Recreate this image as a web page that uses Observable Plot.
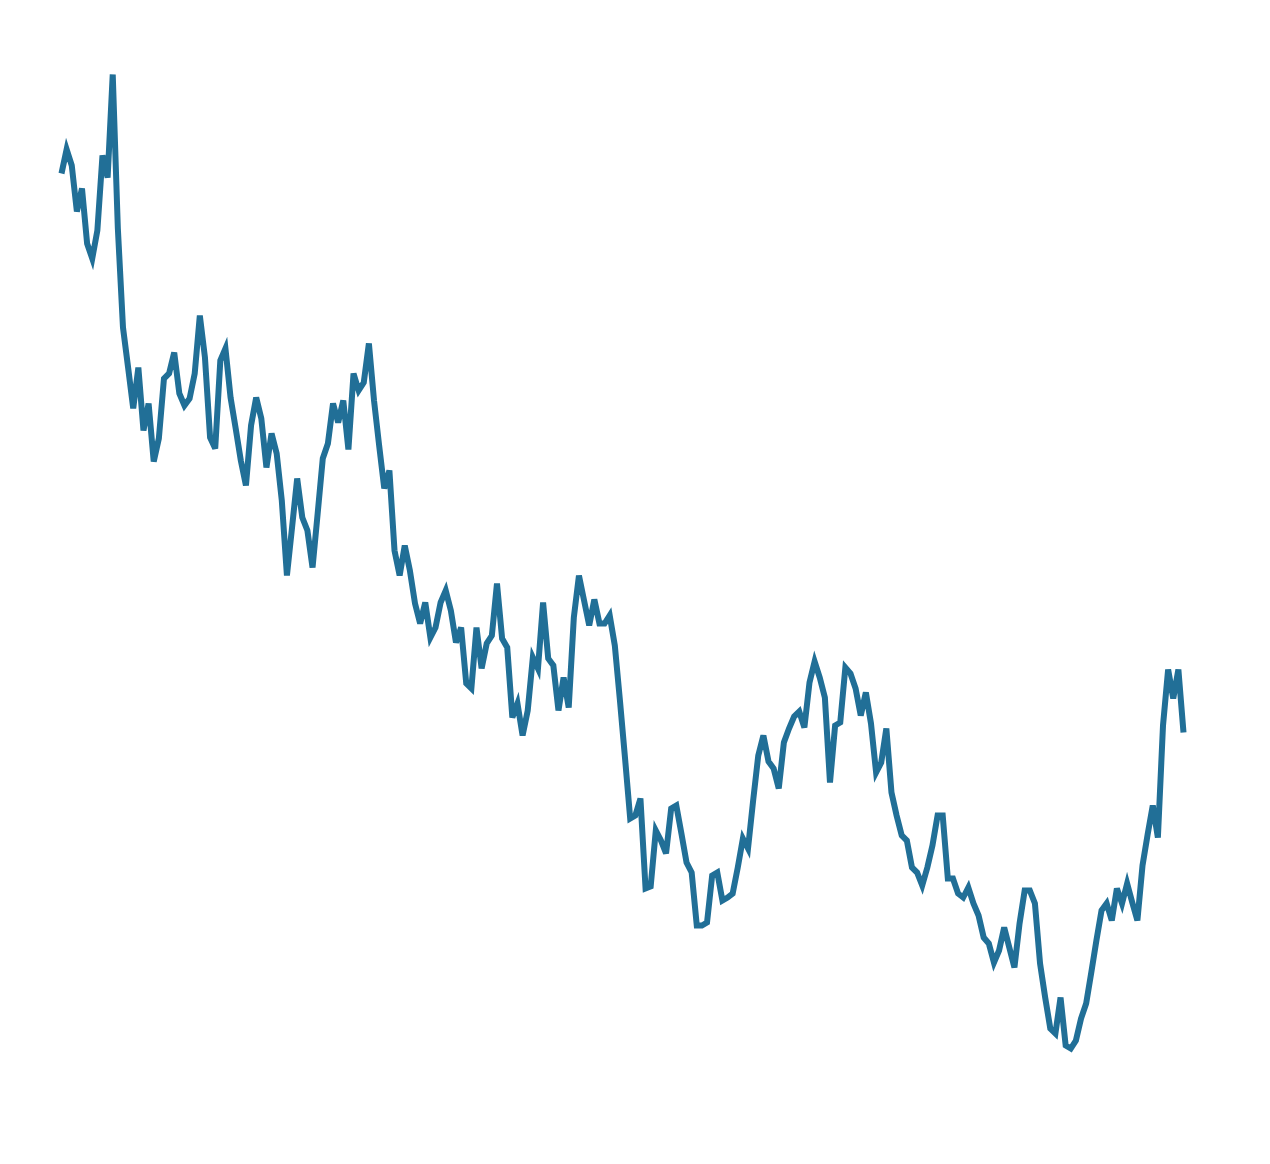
<!DOCTYPE html>
<html>
<head>
<meta charset="utf-8">
<script src="https://cdn.jsdelivr.net/npm/d3@7"></script>
<script src="https://cdn.jsdelivr.net/npm/@observablehq/plot@0.6"></script>
<style>
  html, body { margin: 0; padding: 0; background: #fff; }
  #chart svg { display: block; }
</style>
</head>
<body>
<div id="chart"></div>
<script>
// Series values (one value per period, evenly spaced)
const values = [
  92.7, 95.1, 93.5, 88.9, 91.2, 85.7, 84.2, 87.0, 94.5, 92.3,
  102.6, 87.2, 77.3, 73.3, 69.2, 73.3, 67.0, 69.7, 63.9, 66.2,
  72.2, 72.7, 74.8, 70.7, 69.5, 70.2, 72.7, 78.5, 74.3, 66.3,
  65.2, 74.0, 75.2, 70.3, 67.2, 64.0, 61.5, 67.5, 70.3, 68.2,
  63.3, 66.7, 64.7, 60.0, 52.5, 57.3, 62.2, 58.3, 57.0, 53.3,
  58.7, 64.2, 65.7, 69.7, 67.8, 70.0, 65.1, 72.7, 71.0, 71.8,
  75.7, 70.0, 65.5, 61.2, 63.0, 55.0, 52.5, 55.5, 53.0, 49.7,
  47.7, 49.8, 46.3, 47.3, 49.8, 51.0, 49.0, 45.8, 47.3, 41.7,
  41.2, 47.3, 43.2, 45.7, 46.5, 51.7, 46.2, 45.3, 38.3, 39.7,
  36.5, 39.0, 44.3, 43.2, 49.8, 44.2, 43.5, 39.0, 42.3, 39.3,
  48.3, 52.5, 50.0, 47.5, 50.1, 47.7, 47.7, 48.5, 45.5, 40.0,
  34.2, 28.2, 28.5, 30.2, 21.2, 21.4, 27.0, 26.0, 24.7, 29.2,
  29.5, 26.7, 23.8, 22.8, 17.5, 17.5, 17.8, 22.5, 22.8, 20.0,
  20.3, 20.7, 23.3, 26.2, 25.2, 30.0, 34.5, 36.5, 33.9, 33.2,
  31.2, 35.8, 37.2, 38.4, 38.9, 37.3, 41.8, 43.9, 42.3, 40.3,
  31.8, 37.5, 37.8, 43.3, 42.7, 41.2, 38.5, 40.8, 37.7, 32.8,
  33.8, 37.2, 30.8, 28.5, 26.5, 26.0, 23.3, 22.8, 21.5, 23.3,
  25.5, 28.5, 28.5, 22.2, 22.2, 20.7, 20.3, 21.3, 19.7, 18.5,
  16.3, 15.7, 13.8, 15.0, 17.3, 15.3, 13.3, 17.7, 21.0, 21.0,
  19.7, 13.7, 10.3, 7.2, 6.7, 10.3, 5.5, 5.2, 6.0, 8.2,
  9.7, 12.8, 16.0, 19.0, 19.7, 18.0, 21.2, 19.7, 21.7, 19.8,
  18.0, 23.5, 26.6, 29.5, 26.3, 37.5, 43.1, 40.2, 43.1, 36.8
];
const periods = values.map((_, i) => i);

const data = periods.map((p, i) => ({period: p, value: values[i]}));

const chart = Plot.plot({
  width: 1270,
  height: 1164,
  marginLeft: 61,
  marginRight: 87,
  marginTop: 74,
  marginBottom: 116,
  x: {axis: null, domain: d3.extent(periods)},
  y: {axis: null, domain: d3.extent(values)},
  marks: [
    Plot.line(data, {
      x: "period",
      y: "value",
      stroke: "#216f97",
      strokeWidth: 6,
      strokeLinejoin: "miter",
      strokeLinecap: "butt",
      strokeMiterlimit: 4
    })
  ]
});
document.getElementById("chart").appendChild(chart);
</script>
</body>
</html>
